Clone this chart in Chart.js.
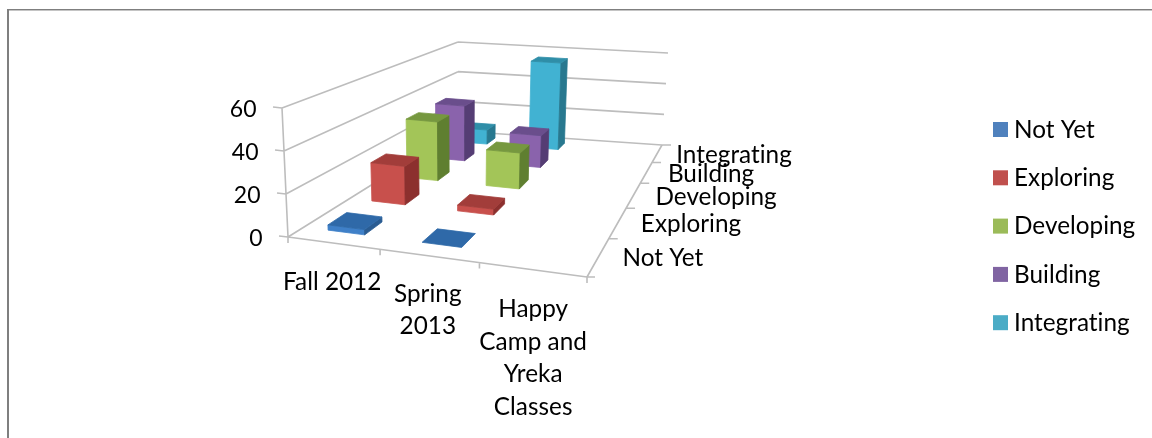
<!DOCTYPE html>
<html><head><meta charset="utf-8">
<style>html,body{margin:0;padding:0;background:#fff;overflow:hidden}#w{width:1152px;height:438px;position:relative}</style>
<script src="https://cdn.jsdelivr.net/npm/chart.js@4"></script>
</head><body><div id="w"><canvas id="c" width="1152" height="438"></canvas></div>
<script>
const categories = ['Fall 2012', 'Spring 2013', 'Happy Camp and Yreka Classes'];
const notYet = [2.5, 0, null];
const exploring = [20, 3, null];
const developing = [33, 20, null];
const building = [33, 19, null];
const integrating = [9, 55, null];

const seriesNames = ['Not Yet', 'Exploring', 'Developing', 'Building', 'Integrating'];
const seriesValues = [notYet, exploring, developing, building, integrating];
const categoryLines = [['Fall 2012'], ['Spring', '2013'], ['Happy', 'Camp and', 'Yreka', 'Classes']];

// styles: front, top, side
const front = ['#3f80c8', '#c8504c', '#a3c558', '#8a63ac', '#41b2d2'];
const topFace = ['#2f69a8', '#a23d3a', '#76983f', '#6a4e8c', '#2f8ea8'];
const side = ['#2a5c92', '#8c302e', '#5f7f30', '#553d74', '#28788f'];
const legendCol = ['#4f81bd', '#c0504d', '#9bbb59', '#8064a2', '#4bacc6'];

const FONT = '24.3px Lato';
const TICKFONT = '23px Lato';
// projection frame: floor and top corners (front-left, front-right, back-left, back-right)
const C = {
  fl0: [288, 237], fr0: [587, 277], bl0: [458, 131], br0: [662, 145],
  fl1: [282, 108], fr1: [594, 144], bl1: [458, 42], br1: [668, 53]
};
const persU = 0.89, persV = 1.63;
const gu = t => t * persU / (1 + t * (persU - 1));
const gv = t => t * persV / (1 + t * (persV - 1));
const mix = (a, b, t) => [a[0] + (b[0] - a[0]) * t, a[1] + (b[1] - a[1]) * t];
function P(u, v, h) {
  const U = gu(u), V = gv(v);
  const b = mix(mix(C.fl0, C.fr0, U), mix(C.bl0, C.br0, U), V);
  const t = mix(mix(C.fl1, C.fr1, U), mix(C.bl1, C.br1, U), V);
  return mix(b, t, h);
}
function poly(ctx, pts, fill) {
  ctx.beginPath();
  pts.forEach((p, i) => i ? ctx.lineTo(p[0], p[1]) : ctx.moveTo(p[0], p[1]));
  ctx.closePath();
  ctx.fillStyle = fill; ctx.fill();
  ctx.strokeStyle = fill; ctx.lineWidth = 0.8; ctx.stroke();
}
function line(ctx, a, b) { ctx.moveTo(a[0], a[1]); ctx.lineTo(b[0], b[1]); }

const scene = {
  id: 'scene',
  beforeDraw(chart) {
    const ctx = chart.ctx;
    ctx.save();
    ctx.fillStyle = '#fff'; ctx.fillRect(0, 0, 1152, 438);
    ctx.fillStyle = '#7f7f7f';
    ctx.fillRect(7, 9, 1145, 1); ctx.fillRect(7, 9, 2, 429);
    ctx.fillStyle = '#c4c4c4'; ctx.fillRect(9, 10, 1143, 1);
    ctx.restore();
  },
  beforeDatasetsDraw(chart) {
    const ctx = chart.ctx, x = chart.scales.x, y = chart.scales.y;
    const hOf = val => (y.bottom - y.getPixelForValue(val)) / y.height;
    const uOf = px => (px - x.left) / x.width;
    ctx.save();
    // walls and floor
    ctx.strokeStyle = '#bdbdbd'; ctx.lineWidth = 1.6; ctx.beginPath();
    y.ticks.forEach(t => {
      const h = hOf(t.value);
      line(ctx, P(0, 0, h), P(0, 1, h));
      line(ctx, P(0, 1, h), P(1, 1, h));
      const a = P(0, 0, h);
      line(ctx, [a[0] - 9, a[1] - 1], a);
    });
    line(ctx, P(0, 0, 0), P(0, 0, 1));
    line(ctx, P(0, 0, 0), P(1, 0, 0));
    line(ctx, P(1, 0, 0), P(1, 1, 0));
    categories.forEach((c, i) => {
      const a = P((i) / categories.length, 0, 0);
      line(ctx, a, [a[0], a[1] + 6]);
    });
    const e = P(1, 0, 0); line(ctx, e, [e[0], e[1] + 6]);
    seriesNames.forEach((s, i) => {
      const a = P(1, (i + 1) / seriesNames.length, 0);
      line(ctx, a, [a[0] + 9, a[1]]);
    });
    const e2 = P(1, 0, 0); line(ctx, e2, [e2[0] + 8, e2[1]]);
    ctx.stroke();

    // bars, back to front, left to right
    const halfU = 0.205 / categories.length, halfV = 0.2 / seriesNames.length;
    const catNudge = [-0.006, 0.004, 0];
    for (let s = chart.data.datasets.length - 1; s >= 0; s--) {
      chart.data.datasets[s].data.forEach((val, i) => {
        if (val === null) return;
        const uc = uOf(x.getPixelForValue(i)) + catNudge[i], vc = (s + 0.5) / seriesNames.length;
        const u0 = uc - halfU, u1 = uc + halfU, v0 = vc - halfV, v1 = vc + halfV, h = hOf(val);
        if (h > 0) {
          poly(ctx, [P(u0, v0, 0), P(u1, v0, 0), P(u1, v0, h), P(u0, v0, h)], front[s]);
          poly(ctx, [P(u1, v0, 0), P(u1, v1, 0), P(u1, v1, h), P(u1, v0, h)], side[s]);
        }
        poly(ctx, [P(u0, v0, h), P(u1, v0, h), P(u1, v1, h), P(u0, v1, h)], topFace[s]);
      });
    }

    // text
    ctx.fillStyle = '#000'; ctx.textBaseline = 'middle';
    ctx.letterSpacing = '0.02px';
    ctx.font = TICKFONT;
    ctx.textAlign = 'right';
    y.ticks.forEach(t => {
      const a = P(0, 0, hOf(t.value));
      ctx.fillText(t.label, a[0] - 25.5, a[1] + 2);
    });
    ctx.font = FONT;
    ctx.textAlign = 'center';
    const catDrop = [39, 38, 40];
    const catShift = [-1, -1, 1];
    categoryLines.forEach((lines, i) => {
      const a = P(uOf(x.getPixelForValue(i)), 0, 0);
      lines.forEach((l, k) => ctx.fillText(l, a[0] + catShift[i], a[1] + catDrop[i] + k * 32.4));
    });
    ctx.textAlign = 'left';
    const inset = [24, 23, 22, 21.5, 19];
    seriesNames.forEach((n, i) => {
      const a = P(1, (i + 0.5) / seriesNames.length, 0);
      ctx.fillText(n, a[0] + inset[i], a[1] + 1.5);
    });
    // legend
    chart.data.datasets.forEach((d, i) => {
      const yy = 130 + i * 48.3;
      ctx.fillStyle = legendCol[i];
      ctx.fillRect(993, yy - 8, 15, 15);
      ctx.fillStyle = '#000';
      ctx.fillText(d.label, 1014, yy);
    });
    ctx.restore();
    return false;
  }
};

new Chart(document.getElementById('c'), {
  type: 'bar',
  data: {
    labels: categories,
    datasets: seriesNames.map((n, i) => ({ label: n, data: seriesValues[i], backgroundColor: legendCol[i] }))
  },
  options: {
    responsive: false, animation: false,
    layout: { padding: { left: 288, right: 565, top: 108, bottom: 201 } },
    plugins: { legend: { display: false }, tooltip: { enabled: false } },
    scales: {
      x: { display: false },
      y: { display: false, min: 0, max: 60, ticks: { stepSize: 20 } }
    }
  },
  plugins: [scene]
});
</script></body></html>
